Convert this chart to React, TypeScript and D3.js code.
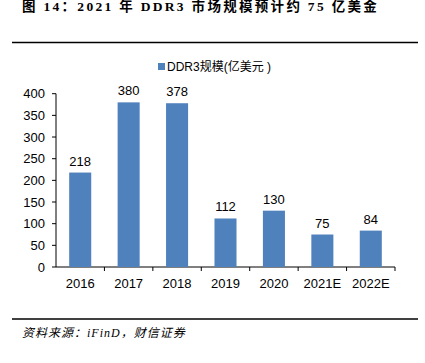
import React from "react";
import * as d3 from "d3";

const categories = ["2016", "2017", "2018", "2019", "2020", "2021E", "2022E"];
const values = [218, 380, 378, 112, 130, 75, 84];
const yTicks = [0, 50, 100, 150, 200, 250, 300, 350, 400];
const seriesName = "DDR3规模(亿美元 )";
const title = "图 14：2021 年 DDR3 市场规模预计约 75 亿美金";
const source = "资料来源：iFinD，财信证券";

export default function App() {
  const W = 425, H = 363;
  const x0 = 56, x1 = 395, yTop = 93.7, yBot = 267;
  const x = d3.scaleBand<string>().domain(categories).range([x0, x1]).paddingInner(0.545).paddingOuter(0.2725);
  const xOuter = d3.scaleBand<string>().domain(categories).range([x0, x1]);
  const y = d3.scaleLinear().domain([0, 400]).range([yBot, yTop]);
  const font = "Arial, 'Liberation Sans', 'Noto Sans CJK SC', sans-serif";
  const serif = "'Times New Roman', 'Liberation Serif', 'Noto Sans CJK SC', serif";
  const color = "#4f81bd";
  return (
    <svg width={W} height={H} style={{ position: "absolute", left: 0, top: 0 }}>
      <rect width={W} height={H} fill="#fff" />
      <text x={22} y={10.5} fontFamily={serif} fontWeight="bold" fontSize={13.5} letterSpacing={2.3} fill="#000">{title}</text>
      <line x1={12} x2={418} y1={42.5} y2={42.5} stroke="#000" strokeWidth={1.3} />
      <rect x={158} y={63} width={7} height={7} fill={color} />
      <text x={167} y={71} fontFamily={font} fontSize={12} fill="#000">{seriesName}</text>
      <line x1={x0} x2={x0} y1={yTop} y2={yBot} stroke="#000" strokeWidth={1} />
      <line x1={x0} x2={x1} y1={yBot} y2={yBot} stroke="#000" strokeWidth={1} />
      {yTicks.map((t) => (
        <g key={t}>
          <line x1={x0 - 4} x2={x0} y1={y(t)} y2={y(t)} stroke="#000" />
          <text x={45} y={y(t)} dy="0.35em" textAnchor="end" fontFamily={font} fontSize={13} fill="#000">{t}</text>
        </g>
      ))}
      {categories.map((c) => (
        <line key={"t" + c} x1={(xOuter(c) as number) + xOuter.bandwidth()} x2={(xOuter(c) as number) + xOuter.bandwidth()} y1={yBot} y2={yBot + 4} stroke="#000" />
      ))}
      {categories.map((c, i) => (
        <g key={c}>
          <rect x={x(c)} y={y(values[i])} width={x.bandwidth()} height={yBot - y(values[i])} fill={color} />
          <text x={(x(c) as number) + x.bandwidth() / 2} y={y(values[i]) - 7} textAnchor="middle" fontFamily={font} fontSize={13} fill="#000">{values[i]}</text>
          <text x={(x(c) as number) + x.bandwidth() / 2} y={288} textAnchor="middle" fontFamily={font} fontSize={13} fill="#000">{c}</text>
        </g>
      ))}
      <line x1={12} x2={418} y1={319} y2={319} stroke="#000" strokeWidth={1.3} />
      <text x={22} y={337} fontFamily={serif} fontStyle="italic" fontSize={12} letterSpacing={1} fill="#000">{source}</text>
    </svg>
  );
}
